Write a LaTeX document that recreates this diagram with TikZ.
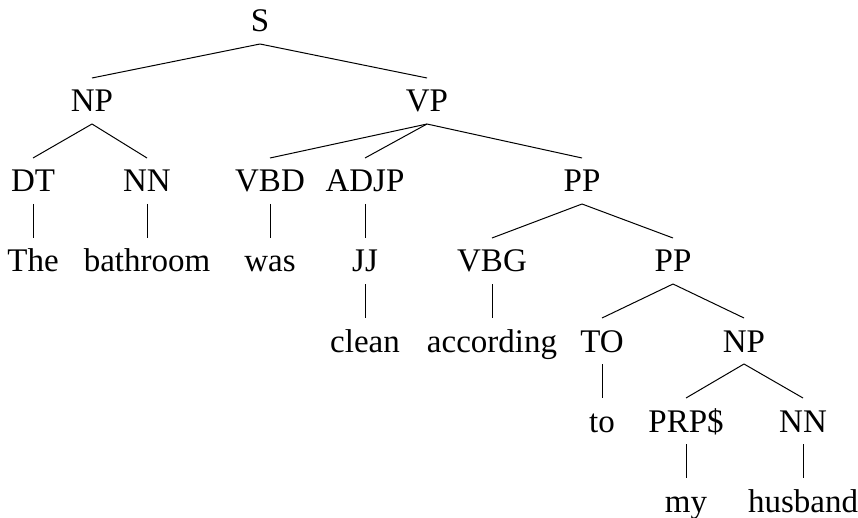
\documentclass[tikz,border=0pt]{standalone}
\usepackage{fontspec}
\setmainfont{Liberation Serif}

\begin{document}
\begin{tikzpicture}[x = 1pt, y = -1pt,
  cat/.style = {anchor=base, inner xsep=0pt, inner ysep=12pt, outer sep=0pt,
    text height=22pt, text depth=0pt, font=\fontsize{33}{40}\selectfont},
  branch/.style = {line width=1pt}]
  \useasboundingbox (0,0) rectangle (858,518);

  \node[cat] (s) at (260,32) {S};

  \node[cat] (npSubj) at (92,112) {NP};
  \node[cat] (vp) at (427,112) {VP};

  \node[cat] (dt) at (33,192) {DT};
  \node[cat] (nnSubj) at (147,192) {NN};
  \node[cat] (vbd) at (270,192) {VBD};
  \node[cat] (adjp) at (365,192) {ADJP};
  \node[cat] (ppOuter) at (582,192) {PP};

  \node[cat] (wThe) at (33,272) {The};
  \node[cat] (wBathroom) at (147,272) {bathroom};
  \node[cat] (wWas) at (270,272) {was};
  \node[cat] (jj) at (365,272) {JJ};
  \node[cat] (vbg) at (492,272) {VBG};
  \node[cat] (ppInner) at (673,272) {PP};

  \node[cat] (wClean) at (365,352) {clean};
  \node[cat] (wAccording) at (492,352) {according};
  \node[cat] (to) at (602,352) {TO};
  \node[cat] (npObj) at (744,352) {NP};

  \node[cat] (wTo) at (602,432) {to};
  \node[cat] (prp) at (686,432) {PRP\$};
  \node[cat] (nnObj) at (803,432) {NN};

  \node[cat] (wMy) at (686,512) {my};
  \node[cat] (wHusband) at (803,512) {husband};

  % branches
  \foreach \from/\to in {s/npSubj, s/vp,
      npSubj/dt, npSubj/nnSubj, vp/vbd, vp/adjp, vp/ppOuter,
      dt/wThe, nnSubj/wBathroom, vbd/wWas, adjp/jj,
      ppOuter/vbg, ppOuter/ppInner,
      jj/wClean, vbg/wAccording, ppInner/to, ppInner/npObj,
      to/wTo, npObj/prp, npObj/nnObj,
      prp/wMy, nnObj/wHusband}
    \draw[branch] (\from.south) -- (\to.north);
\end{tikzpicture}
\end{document}
